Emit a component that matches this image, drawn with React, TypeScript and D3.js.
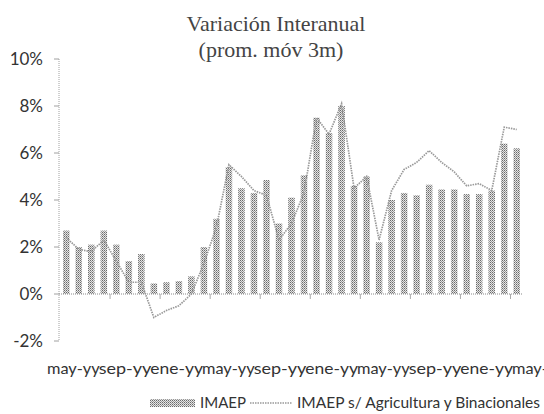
import React from "react";
import * as d3 from "d3";

const categories = [
  "may-yy","jun-yy","jul-yy","ago-yy","sep-yy","oct-yy","nov-yy","dic-yy","ene-yy","feb-yy","mar-yy","abr-yy",
  "may-yy2","jun-yy2","jul-yy2","ago-yy2","sep-yy2","oct-yy2","nov-yy2","dic-yy2","ene-yy2","feb-yy2","mar-yy2","abr-yy2",
  "may-yy3","jun-yy3","jul-yy3","ago-yy3","sep-yy3","oct-yy3","nov-yy3","dic-yy3","ene-yy3","feb-yy3","mar-yy3","abr-yy3",
  "may-yy4",
];

const imaep = [
  2.7, 2.0, 2.1, 2.7, 2.1, 1.4, 1.7, 0.45, 0.5, 0.55, 0.75, 2.0,
  3.2, 5.4, 4.5, 4.3, 4.85, 3.0, 4.1, 5.05, 7.5, 6.85, 8.0, 4.6,
  5.0, 2.2, 4.0, 4.3, 4.2, 4.65, 4.45, 4.45, 4.25, 4.25, 4.4, 6.4,
  6.2,
];

const imaepSinAgro = [
  2.4, 1.9, 1.8, 2.3, 1.4, 0.5, 0.5, -1.0, -0.7, -0.5, 0.0, 1.3,
  2.85, 5.5, 5.0, 4.4, 4.2, 2.3, 3.0, 4.3, 7.5, 6.8, 8.1, 4.5,
  5.0, 2.3, 4.4, 5.3, 5.6, 6.1, 5.6, 5.2, 4.6, 4.7, 4.4, 7.1,
  7.0,
];

const xLabels = ["may-yy","sep-yy","ene-yy","may-yy","sep-yy","ene-yy","may-yy","sep-yy","ene-yy","may-yy"];
const yTicks = [-2, 0, 2, 4, 6, 8, 10];

const W = 544;
const H = 414;

export default function App() {
  const x = d3.scaleBand<string>().domain(categories).range([60, 523]).paddingInner(0.48).paddingOuter(0.24);
  const y = d3.scaleLinear().domain([-2, 10]).range([341, 59]);
  const step = x.step();
  const bw = x.bandwidth();
  const cx = (i: number) => (x(categories[i]) as number) + bw / 2;
  const labelX = d3.scaleLinear().domain([0, xLabels.length - 1]).range([47, 512]);
  const labelStep = labelX(1) - labelX(0);

  const line = d3
    .line<number>()
    .x((_, i) => cx(i))
    .y((d) => y(d));

  const tickBoundaries = d3.range(4, categories.length, 4).map((k) => (x(categories[k]) as number) - (step - bw) / 2);
  const y0 = y(0);

  return (
    <svg width={W} height={H} style={{ position: "absolute", left: 0, top: 0, background: "#fff" }}>
      <defs>
        <pattern id="stip" width="2" height="2" patternUnits="userSpaceOnUse">
          <rect width="2" height="2" fill="#e4e4e4" />
          <rect x="0" y="0" width="1" height="1" fill="#6a6a6a" />
          <rect x="1" y="1" width="1" height="1" fill="#9a9a9a" />
        </pattern>
      </defs>
      <rect width={W} height={H} fill="#fff" />

      <text x={276} y={31} textAnchor="middle" fontFamily="'Liberation Serif', serif" fontSize={22} fill="#444">
        Variación Interanual
      </text>
      <text x={271} y={57} textAnchor="middle" fontFamily="'Liberation Serif', serif" fontSize={22} fill="#444">
        (prom. móv 3m)
      </text>

      {/* y axis */}
      <line x1={59} x2={59} y1={y(10)} y2={y(-2)} stroke="#a0a0a0" strokeWidth={1} strokeDasharray="1 1" />
      {yTicks.map((t) => (
        <g key={t}>
          <line x1={54} x2={59} y1={y(t)} y2={y(t)} stroke="#a0a0a0" strokeWidth={1} />
          <text x={43} y={y(t) + 6} textAnchor="end" fontFamily="Lato, sans-serif" fontSize={17} fill="#333">
            {`${t}%`}
          </text>
        </g>
      ))}

      {/* bars */}
      {imaep.map((v, i) => (
        <rect
          key={i}
          x={x(categories[i]) as number}
          y={Math.min(y(v), y0)}
          width={bw}
          height={Math.abs(y(v) - y0)}
          fill="url(#stip)"
        />
      ))}

      {/* x axis */}
      <line x1={59} x2={523} y1={y0} y2={y0} stroke="#8a8a8a" strokeWidth={1.2} strokeDasharray="1 1" />
      {tickBoundaries.map((b, i) => (
        <line key={i} x1={b} x2={b} y1={y0} y2={y0 + 5} stroke="#aaa" strokeWidth={1} />
      ))}

      {/* line */}
      <path d={line(imaepSinAgro) as string} fill="none" stroke="#999" strokeWidth={1.7} strokeDasharray="1.5 1" />

      {/* x labels */}
      {xLabels.map((l, i) => (
        <text
          key={i}
          x={labelX(i)}
          y={374}
          fontFamily="Lato, sans-serif"
          fontSize={16}
          fill="#333"
          textLength={labelStep + 1}
          lengthAdjust="spacingAndGlyphs"
        >
          {l}
        </text>
      ))}

      {/* legend */}
      <rect x={150} y={399} width={45} height={8} fill="url(#stip)" />
      <text x={200} y={408} fontFamily="Lato, sans-serif" fontSize={15} fill="#333">IMAEP</text>
      <line x1={250} x2={292} y1={403} y2={403} stroke="#999" strokeWidth={1.7} strokeDasharray="1.5 1" />
      <text x={297} y={408} fontFamily="Lato, sans-serif" fontSize={15} textLength={243} lengthAdjust="spacingAndGlyphs" fill="#333">
        IMAEP s/ Agricultura y Binacionales
      </text>
    </svg>
  );
}
